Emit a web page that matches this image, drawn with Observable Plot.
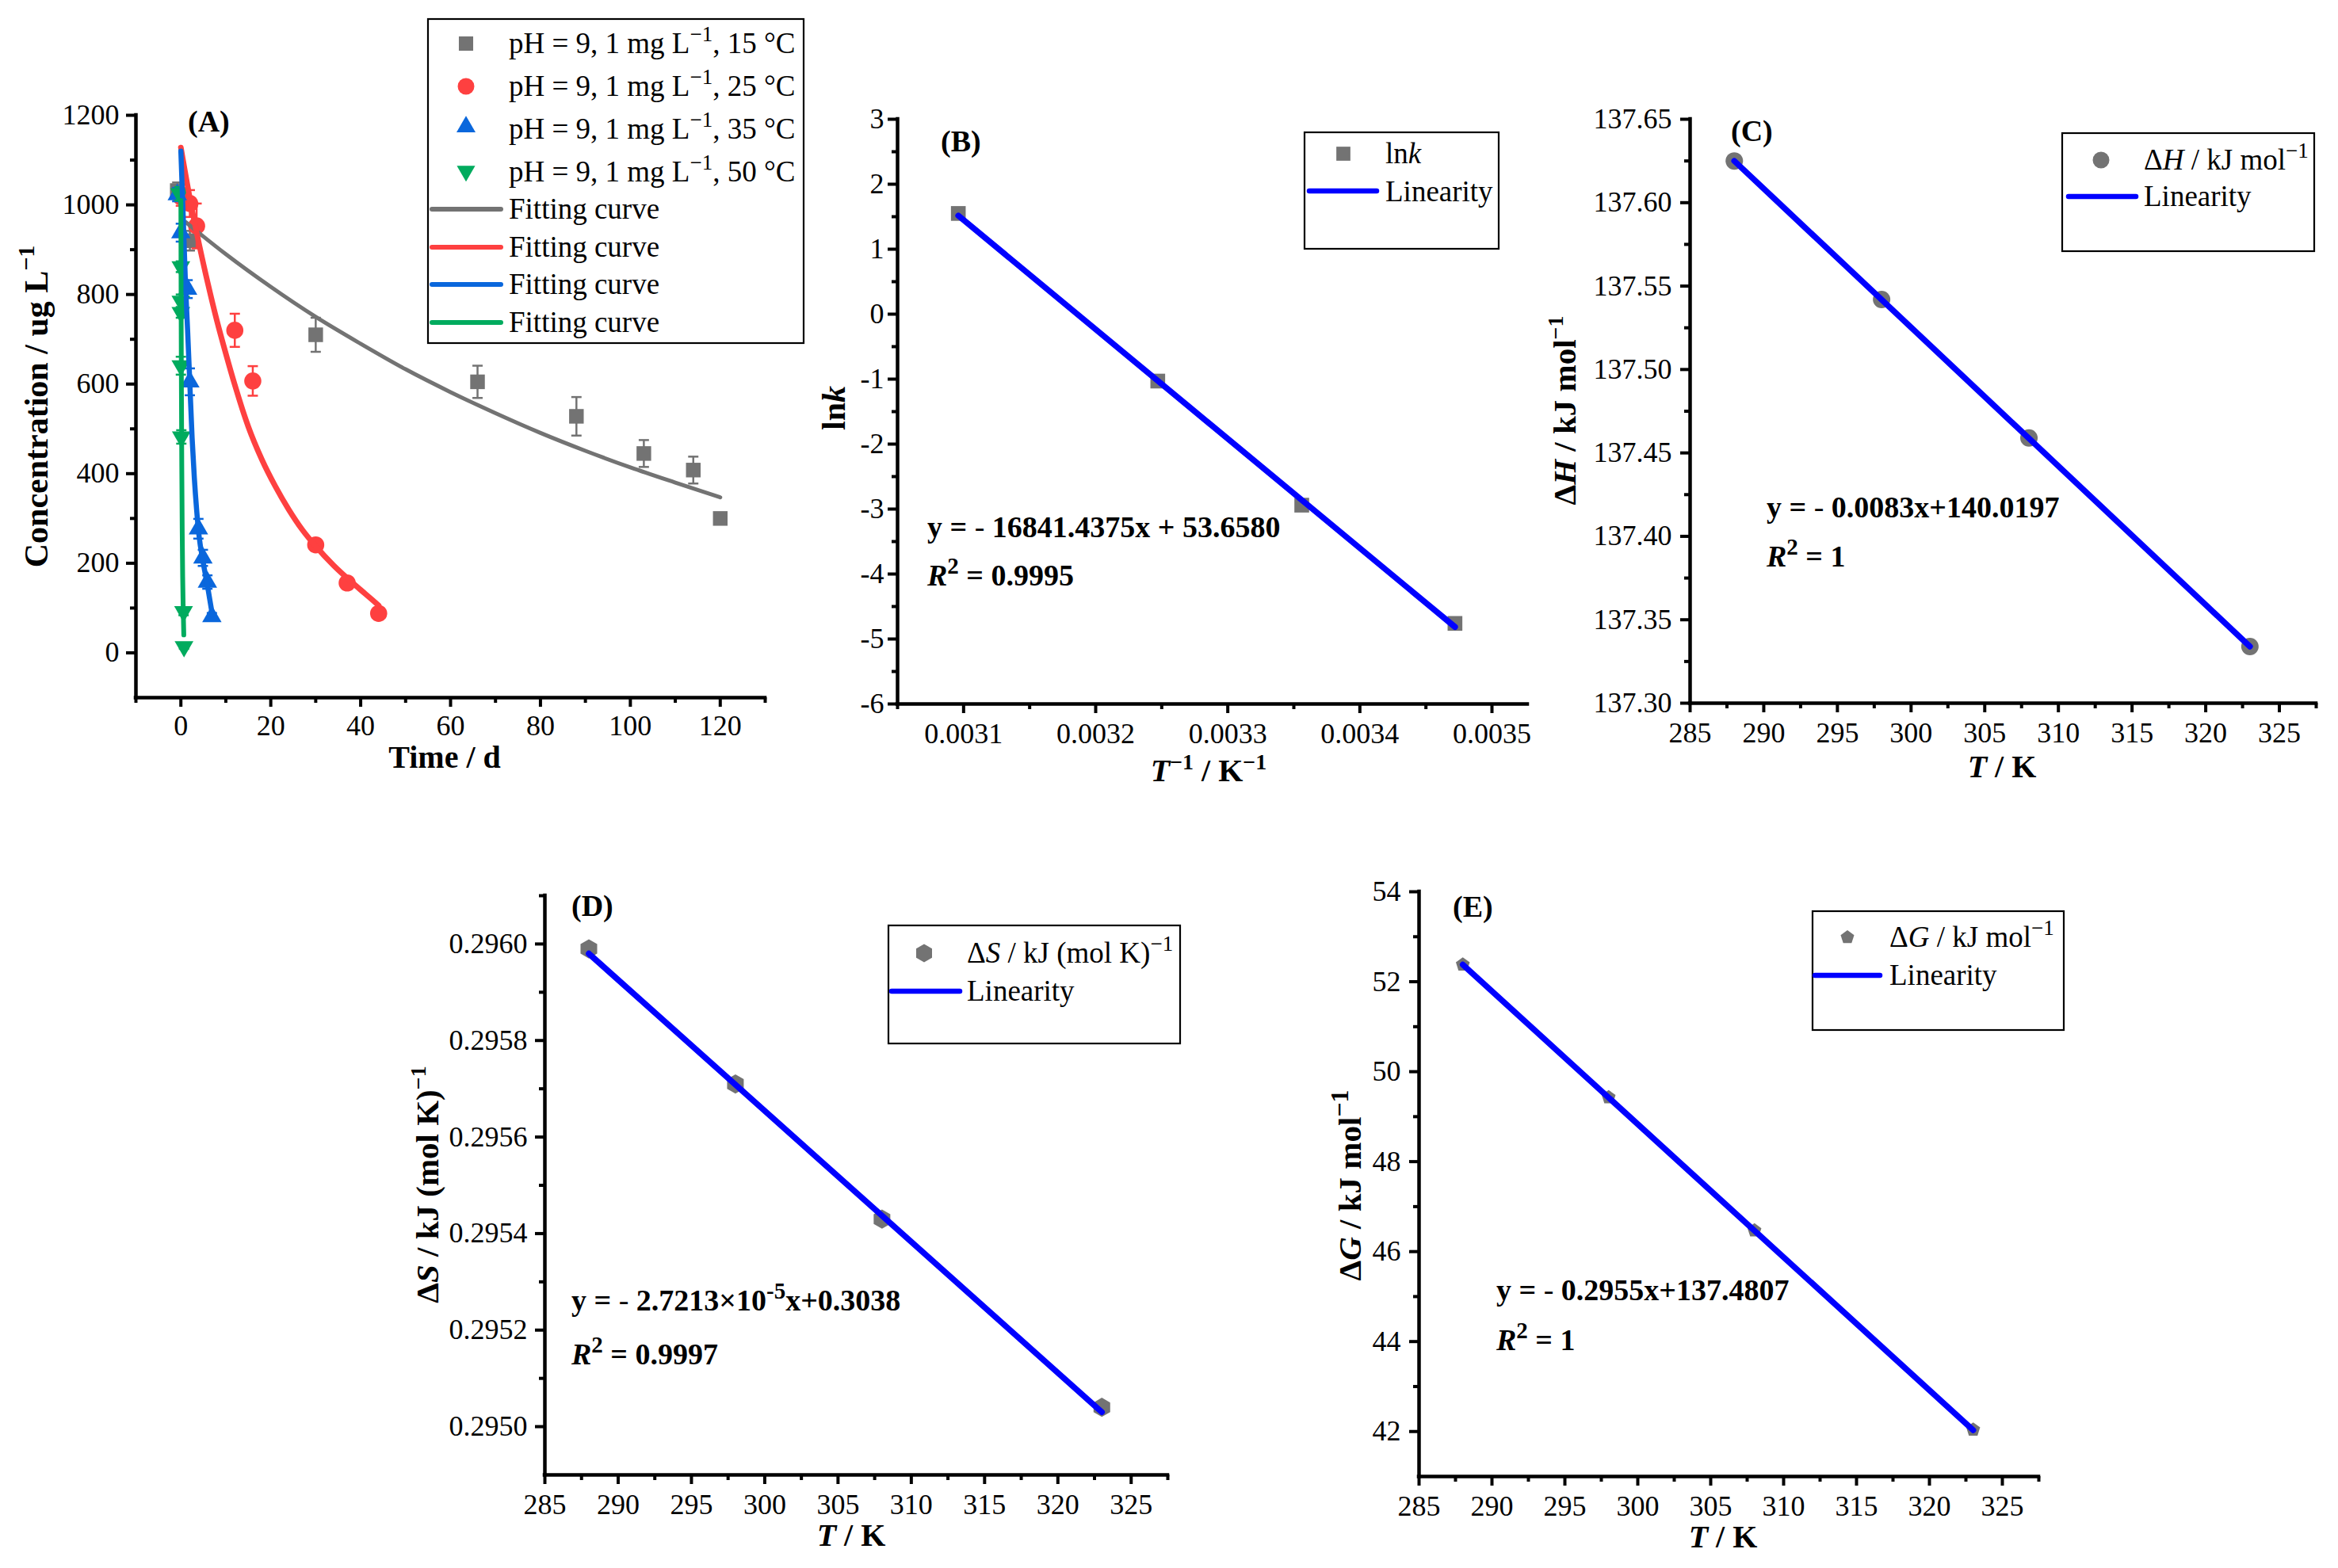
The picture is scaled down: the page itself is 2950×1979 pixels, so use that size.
<!DOCTYPE html>
<html lang="en">
<head>
<meta charset="utf-8">
<title>Degradation kinetics and activation thermodynamics</title>
<script src="https://cdn.jsdelivr.net/npm/d3@7"></script>
<script src="https://cdn.jsdelivr.net/npm/@observablehq/plot@0.6"></script>
<style>
  html, body { margin: 0; padding: 0; background: #fff; }
  #fig { position: relative; width: 2950px; height: 1979px; background: #fff; overflow: hidden; }
</style>
</head>
<body>
<div id="fig"></div>
<script>
const SERIF = '"Liberation Serif", "Times New Roman", Times, serif';
const GRAY = "#737373", RED = "#fe4040", BLUE = "#0a67dc", GREEN = "#00ab5e", FIT = "#0000ff";

// ---------- (A) concentration over time, pH 9, 1 mg/L ----------
const temps = ["15 °C", "25 °C", "35 °C", "50 °C"];

const t15 = [-0.8, 2, 30, 66, 88, 103, 114, 120];
const c15 = [1032, 920, 710, 605, 528, 445, 408, 300];
const e15 = [18, 22, 38, 36, 43, 30, 30, 6];

const t25 = [0, 2, 3.5, 12, 16, 30, 37, 44];
const c25 = [1018, 1003, 953, 720, 607, 241, 156, 88];
const e25 = [20, 30, 50, 37, 33, 12, 10, 8];

const t35 = [-0.8, 0, 1.5, 2, 3.9, 4.9, 5.9, 6.9];
const c35 = [1023, 938, 812, 605, 277, 212, 158, 81];
const e35 = [15, 20, 20, 30, 22, 18, 15, 8];

const t50 = [-0.3, 0, 0, 0, 0, 0.1, 0.6, 0.7];
const c50 = [1025, 862, 785, 760, 641, 482, 92, 14];
const e50 = [15, 12, 15, 12, 20, 15, 8, 5];

// fitted first-order curves
const tFit15 = [1, 10, 20, 30, 40, 50, 60, 70, 80, 90, 100, 110, 120];
const cFit15 = [962, 890, 817, 750, 690, 633, 582, 535, 491, 451, 414, 380, 347];
const tFit25 = [0, 2, 4, 6, 8, 10, 12, 15, 18, 21, 24, 27, 30, 34, 38, 41, 44];
const cFit25 = [1128, 1015, 915, 825, 742, 668, 598, 505, 432, 372, 320, 275, 238, 195, 158, 132, 106];
const tFit35 = [0, 0.5, 1, 1.5, 2, 2.5, 3, 3.5, 4, 5, 6, 7];
const cFit35 = [1120, 980, 830, 720, 600, 480, 390, 320, 265, 200, 145, 85];
const tFit50 = [0, 0.05, 0.1, 0.2, 0.3, 0.4, 0.5, 0.65];
const cFit50 = [1010, 800, 640, 420, 270, 170, 110, 40];

// ---------- (B) Arrhenius plot ----------
const invT = [0.003096, 0.003247, 0.003356, 0.003472];
const lnk = [1.55, -1.03, -2.94, -4.76];
const invTFit = [0.003096, 0.003472];
const lnkFit = [1.517, -4.814];

// ---------- (C)(D)(E) activation parameters vs temperature ----------
const tempK = [288, 298, 308, 323];
const tempFit = [288, 323];
const dH = [137.625, 137.542, 137.459, 137.334];
const dHFit = [137.625, 137.334];
const dS = [0.29599, 0.29571, 0.29543, 0.29504];
const dSFit = [0.29598, 0.29503];
const dG = [52.38, 49.43, 46.47, 42.04];
const dGFit = [52.38, 42.03];

// ---------- tick values ----------
const ticksA = {xMajor: [0, 20, 40, 60, 80, 100, 120], xMinor: [-10, 10, 30, 50, 70, 90, 110, 130],
                yMajor: [0, 200, 400, 600, 800, 1000, 1200], yMinor: [100, 300, 500, 700, 900, 1100]};
const ticksB = {xMajor: [0.0031, 0.0032, 0.0033, 0.0034, 0.0035], xMinor: [0.00305, 0.00315, 0.00325, 0.00335, 0.00345],
                yMajor: [-6, -5, -4, -3, -2, -1, 0, 1, 2, 3], yMinor: [-5.5, -4.5, -3.5, -2.5, -1.5, -0.5, 0.5, 1.5, 2.5]};
const ticksT = {major: [285, 290, 295, 300, 305, 310, 315, 320, 325], minor: [287.5, 292.5, 297.5, 302.5, 307.5, 312.5, 317.5, 322.5, 327.5]};
const ticksC = {major: [137.30, 137.35, 137.40, 137.45, 137.50, 137.55, 137.60, 137.65],
                minor: [137.325, 137.375, 137.425, 137.475, 137.525, 137.575, 137.625]};
const ticksD = {major: [0.2950, 0.2952, 0.2954, 0.2956, 0.2958, 0.2960],
                minor: [0.2951, 0.2953, 0.2955, 0.2957, 0.2959, 0.2961]};
const ticksE = {major: [42, 44, 46, 48, 50, 52, 54], minor: [43, 45, 47, 49, 51, 53]};

// ---------- marker shapes ----------
const triangleDown = {draw(ctx, size) {
  const y = -Math.sqrt(size / (3 * Math.sqrt(3)));
  ctx.moveTo(0, -2 * y); ctx.lineTo(-Math.sqrt(3) * y, y); ctx.lineTo(Math.sqrt(3) * y, y); ctx.closePath();
}};
const pentagon = {draw(ctx, size) {
  const R = Math.sqrt(size / (2.5 * Math.sin(2 * Math.PI / 5)));
  for (let i = 0; i < 5; i++) {
    const a = -Math.PI / 2 + i * 2 * Math.PI / 5;
    i ? ctx.lineTo(R * Math.cos(a), R * Math.sin(a)) : ctx.moveTo(R * Math.cos(a), R * Math.sin(a));
  }
  ctx.closePath();
}};
const hexagon = {draw(ctx, size) {
  const rx = Math.sqrt(size / Math.PI), ry = rx * 2 / Math.sqrt(3), hy = ry / 2;
  ctx.moveTo(0, ry); ctx.lineTo(rx, hy); ctx.lineTo(rx, -hy); ctx.lineTo(0, -ry);
  ctx.lineTo(-rx, -hy); ctx.lineTo(-rx, hy); ctx.closePath();
}};
const cap = {draw(ctx, size) { const w = Math.sqrt(size) / 2; ctx.moveTo(-w, 0); ctx.lineTo(w, 0); }};

// ---------- helpers ----------
const fig = document.getElementById("fig");
const baseStyle = {fontFamily: SERIF, fontSize: "36px", color: "#000", background: "transparent", overflow: "visible"};

function place(node, left, top) {
  node.style.position = "absolute";
  node.style.left = left + "px";
  node.style.top = top + "px";
  fig.appendChild(node);
}
const rows = (t, c, e) => t.map((v, i) => ({t: v, c: c[i], e: e ? e[i] : 0}));

function seriesMarks(data, color, symbol, r) {
  return [
    Plot.ruleX(data, {x: "t", y1: d => d.c - d.e, y2: d => d.c + d.e, stroke: color, strokeWidth: 2.5}),
    Plot.dot(data, {x: "t", y: d => d.c + d.e, symbol: cap, r: 7.3, stroke: color, fill: "none", strokeWidth: 2.5}),
    Plot.dot(data, {x: "t", y: d => d.c - d.e, symbol: cap, r: 7.3, stroke: color, fill: "none", strokeWidth: 2.5}),
    Plot.dot(data, {x: "t", y: "c", symbol, r, fill: color, stroke: "none"})
  ];
}
function axes({xMajor, xMinor, yMajor, yMinor, xFmt, yFmt, yPad, xPad = 12, xDomain, yDomain}) {
  const common = {strokeWidth: 4, label: null};
  return [
    Plot.axisX(xMinor, {...common, tickSize: 7, tickFormat: () => ""}),
    Plot.axisY(yMinor, {...common, tickSize: 7, tickFormat: () => ""}),
    Plot.axisX(xMajor, {...common, tickSize: 12, tickPadding: xPad, tickFormat: xFmt}),
    Plot.axisY(yMajor, {...common, tickSize: 12, tickPadding: yPad, tickFormat: yFmt}),
    Plot.ruleX([xDomain[0]], {strokeWidth: 4.5, strokeLinecap: "square"}),
    Plot.ruleY([yDomain[0]], {strokeWidth: 4.5, strokeLinecap: "square"})
  ];
}

// ---------- (A) ----------
const xA = [-10, 130], yA = [-100, 1200];
place(Plot.plot({
  width: 1020, height: 1000, marginLeft: 171, marginRight: 55, marginTop: 145, marginBottom: 120,
  style: baseStyle, x: {domain: xA}, y: {domain: yA},
  marks: [
    ...seriesMarks(rows(t15, c15, e15), GRAY, "square", 10.4),
    ...seriesMarks(rows(t25, c25, e25), RED, "circle", 10.8),
    ...seriesMarks(rows(t35, c35, e35), BLUE, "triangle", 9.1),
    ...seriesMarks(rows(t50, c50, e50), GREEN, triangleDown, 8.8),
    Plot.line(rows(tFit15, cFit15), {x: "t", y: "c", stroke: GRAY, strokeWidth: 5, curve: "monotone-x"}),
    Plot.line(rows(tFit25, cFit25), {x: "t", y: "c", stroke: RED, strokeWidth: 7, curve: "monotone-x"}),
    Plot.line(rows(tFit35, cFit35), {x: "t", y: "c", stroke: BLUE, strokeWidth: 6.5, curve: "monotone-x"}),
    Plot.line(rows(tFit50, cFit50), {x: "t", y: "c", stroke: GREEN, strokeWidth: 6, curve: "monotone-x"}),
    ...axes({...ticksA, xFmt: d => String(d), yFmt: d => String(d), yPad: 9, xPad: 10, xDomain: xA, yDomain: yA})
  ]
}), 0, 0);

// ---------- (B) ----------
const xB = [0.00305, 0.003527], yB = [-6, 3];
place(Plot.plot({
  width: 920, height: 1000, marginLeft: 112, marginRight: 13, marginTop: 150, marginBottom: 112,
  style: baseStyle, x: {domain: xB}, y: {domain: yB},
  marks: [
    Plot.dot(rows(invT, lnk), {x: "t", y: "c", symbol: "square", r: 10.5, fill: GRAY}),
    Plot.line(rows(invTFit, lnkFit), {x: "t", y: "c", stroke: FIT, strokeWidth: 7.5}),
    ...axes({...ticksB, xFmt: d3.format(".4f"), yFmt: d => String(d), yPad: 5, xDomain: xB, yDomain: yB})
  ]
}), 1020, 0);

// ---------- (C) ----------
const xT = [285, 327.5];
const yC = [137.30, 137.65];
place(Plot.plot({
  width: 1010, height: 1000, marginLeft: 192, marginRight: 28, marginTop: 150, marginBottom: 113,
  style: baseStyle, x: {domain: xT}, y: {domain: yC},
  marks: [
    Plot.dot(rows(tempK, dH), {x: "t", y: "c", symbol: "circle", r: 11, fill: GRAY}),
    Plot.line(rows(tempFit, dHFit), {x: "t", y: "c", stroke: FIT, strokeWidth: 7.5}),
    ...axes({xMajor: ticksT.major, xMinor: ticksT.minor, yMajor: ticksC.major, yMinor: ticksC.minor,
             xFmt: d => String(d), yFmt: d => d.toFixed(2), yPad: 11, xDomain: xT, yDomain: yC})
  ]
}), 1940, 0);

// ---------- (D) ----------
const yD = [0.2949, 0.2961];
place(Plot.plot({
  width: 1060, height: 919, marginLeft: 207, marginRight: 67, marginTop: 70, marginBottom: 118,
  style: baseStyle, x: {domain: xT}, y: {domain: yD},
  marks: [
    Plot.dot(rows(tempK, dS), {x: "t", y: "c", symbol: hexagon, r: 10.5, fill: GRAY}),
    Plot.line(rows(tempFit, dSFit), {x: "t", y: "c", stroke: FIT, strokeWidth: 7.5}),
    ...axes({xMajor: ticksT.major, xMinor: ticksT.minor, yMajor: ticksD.major, yMinor: ticksD.minor,
             xFmt: d => String(d), yFmt: d3.format(".4f"), yPad: 10, xDomain: xT, yDomain: yD})
  ]
}), 480, 1060);

// ---------- (E) ----------
const yE = [41, 54];
place(Plot.plot({
  width: 1000, height: 919, marginLeft: 190, marginRight: 28, marginTop: 65, marginBottom: 116,
  style: baseStyle, x: {domain: xT}, y: {domain: yE},
  marks: [
    Plot.dot(rows(tempK, dG), {x: "t", y: "c", symbol: pentagon, r: 8, fill: GRAY}),
    Plot.line(rows(tempFit, dGFit), {x: "t", y: "c", stroke: FIT, strokeWidth: 7.5}),
    ...axes({xMajor: ticksT.major, xMinor: ticksT.minor, yMajor: ticksE.major, yMinor: ticksE.minor,
             xFmt: d => String(d), yFmt: d => String(d), yPad: 11, xDomain: xT, yDomain: yE})
  ]
}), 1600, 1060);

// ---------- titles, legends and annotations ----------
const ov = d3.select(fig).append("svg")
  .attr("width", 2950).attr("height", 1979)
  .attr("font-family", SERIF)
  .style("position", "absolute").style("left", "0px").style("top", "0px")
  .style("white-space", "pre").style("pointer-events", "none");

function text(x, cy, markup, size = 37, weight = "normal", anchor = "start", rotate = false) {
  const t = ov.append("text").attr("font-size", size).attr("font-weight", weight)
    .attr("text-anchor", anchor).attr("fill", "#000").html(markup);
  const shift = 0.33 * size;
  if (rotate) t.attr("transform", `translate(${x},${cy}) rotate(-90)`).attr("x", 0).attr("y", shift);
  else t.attr("x", x).attr("y", cy + shift);
  return t;
}
const sup = (s, size, lift, after = "") =>
  `<tspan dy="${-lift}" font-size="${size}">${s}</tspan>` + (after ? `<tspan dy="${lift}">${after}</tspan>` : "");
const it = s => `<tspan font-style="italic">${s}</tspan>`;

function box(x0, y0, x1, y1) {
  ov.append("rect").attr("x", x0).attr("y", y0).attr("width", x1 - x0).attr("height", y1 - y0)
    .attr("fill", "none").attr("stroke", "#000").attr("stroke-width", 2.2);
}
function swatch(cx, cy, type, r, color) {
  ov.append("path").attr("transform", `translate(${cx},${cy})`)
    .attr("d", d3.symbol(type, Math.PI * r * r)()).attr("fill", color);
}
function swatchLine(x0, x1, y, color, w = 6.5) {
  ov.append("line").attr("x1", x0).attr("x2", x1).attr("y1", y).attr("y2", y)
    .attr("stroke", color).attr("stroke-width", w).attr("stroke-linecap", "round");
}

// panel letters
text(237, 153, "(A)", 38, "bold");
text(1187, 178, "(B)", 38, "bold");
text(2184, 165, "(C)", 38, "bold");
text(721, 1143, "(D)", 38, "bold");
text(1833, 1144, "(E)", 38, "bold");

// axis titles
text(46, 513, "Concentration / ug L" + sup("−1", 30, 17), 42, "bold", "middle", true);
text(561, 956, "Time / d", 40, "bold", "middle");
text(1052, 515, "ln" + it("k"), 42, "bold", "middle", true);
text(1525, 973, it("T") + sup("−1", 28, 15, " / K") + sup("−1", 28, 15), 40, "bold", "middle");
text(1974, 518, "Δ" + it("H") + " / kJ mol" + sup("−1", 28, 16), 41, "bold", "middle", true);
text(2526, 968, it("T") + " / K", 40, "bold", "middle");
text(539, 1495, "Δ" + it("S") + " / kJ (mol K)" + sup("−1", 28, 16), 41, "bold", "middle", true);
text(1074, 1938, it("T") + " / K", 40, "bold", "middle");
text(1703, 1496, "Δ" + it("G") + " / kJ mol" + sup("−1", 32, 16), 41, "bold", "middle", true);
text(2174, 1940, it("T") + " / K", 40, "bold", "middle");

// fit equations
const r2 = v => it("R") + sup("2", 29, 15, " = " + v);
text(1170, 665, "y = <tspan font-weight=\"normal\">-</tspan> 16841.4375x + 53.6580", 38, "bold");
text(1170, 726, r2("0.9995"), 38, "bold");
text(2229, 640, "y = <tspan font-weight=\"normal\">-</tspan> 0.0083x+140.0197", 38, "bold");
text(2229, 702, r2("1"), 38, "bold");
text(721, 1641, "y = <tspan font-weight=\"normal\">-</tspan> 2.7213×10" + sup("-5", 29, 15, "x+0.3038"), 38, "bold");
text(721, 1709, r2("0.9997"), 38, "bold");
text(1888, 1628, "y = <tspan font-weight=\"normal\">-</tspan> 0.2955x+137.4807", 38, "bold");
text(1888, 1691, r2("1"), 38, "bold");

// legend (A)
box(540, 24, 1014, 433);
const symA = [[d3.symbolSquare, 10.2, GRAY], [d3.symbolCircle, 10.5, RED], [d3.symbolTriangle, 8.9, BLUE], [triangleDown, 8.6, GREEN]];
const rowSym = [55, 109, 163, 217], rowSymMark = [55, 109, 160, 216];
symA.forEach(([type, r, color], i) => {
  swatch(588, rowSymMark[i], type, r, color);
  text(642, rowSym[i], "pH = 9, 1 mg L" + sup("−1", 27, 15, ", " + temps[i]), 37);
});
const rowLine = [264, 312, 359, 407];
[GRAY, RED, BLUE, GREEN].forEach((color, i) => {
  swatchLine(545, 632, rowLine[i], color, 6);
  text(642, rowLine[i], "Fitting curve", 37);
});

// legend (B)
box(1646, 167, 1891, 314);
swatch(1695, 194, d3.symbolSquare, 10, GRAY);
text(1748, 194, "ln" + it("k"), 37);
swatchLine(1652, 1737, 241, FIT);
text(1748, 242, "Linearity", 37);

// legend (C)
box(2602, 168, 2920, 317);
swatch(2651, 202, d3.symbolCircle, 10.5, GRAY);
text(2705, 202, "Δ" + it("H") + " / kJ mol" + sup("−1", 27, 15), 37);
swatchLine(2610, 2695, 248, FIT);
text(2705, 248, "Linearity", 37);

// legend (D)
box(1121, 1168, 1489, 1317);
swatch(1166, 1203, hexagon, 10, GRAY);
text(1220, 1203, "Δ" + it("S") + " / kJ (mol K)" + sup("−1", 27, 15), 37);
swatchLine(1125, 1211, 1251, FIT);
text(1220, 1251, "Linearity", 37);

// legend (E)
box(2287, 1150, 2604, 1300);
swatch(2331, 1183, pentagon, 7.8, GRAY);
text(2384, 1183, "Δ" + it("G") + " / kJ mol" + sup("−1", 27, 15), 37);
swatchLine(2290, 2372, 1231, FIT);
text(2384, 1231, "Linearity", 37);
</script>
</body>
</html>
